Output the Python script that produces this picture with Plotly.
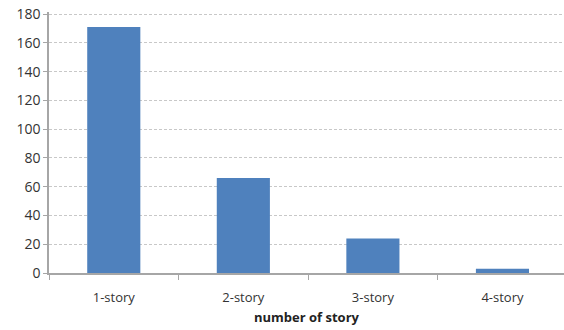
import plotly.graph_objects as go

categories = ["1-story", "2-story", "3-story", "4-story"]
values = [171, 66, 24, 3]
y_ticks = [0, 20, 40, 60, 80, 100, 120, 140, 160, 180]

fig = go.Figure(go.Bar(
    x=categories, y=values,
    marker=dict(color="#4F81BD", line=dict(color="#4F81BD", width=0)),
    width=0.41,
))

font = dict(family="Open Sans, Liberation Sans, sans-serif", size=12, color="#333333")

fig.update_layout(
    width=564, height=330,
    margin=dict(l=49, r=0, t=12, b=57),
    paper_bgcolor="white", plot_bgcolor="white",
    showlegend=False,
    font=font,
)
fig.update_xaxes(
    range=[-0.5, 3.475],
    showline=True, linecolor="#A6A6A6", linewidth=1.5,
    ticks="outside", tickson="boundaries", ticklen=5, tickcolor="#A6A6A6",
    showgrid=False,
    ticklabelstandoff=12,
    tickfont=dict(size=13, color="#333333"),
    title=dict(text="<b>number of story</b>", font=dict(size=13, color="#222222"), standoff=8),
)
fig.update_yaxes(
    range=[0, 181.5], tickvals=y_ticks,
    showline=True, linecolor="#A6A6A6", linewidth=1.5,
    ticks="outside", ticklen=4, tickcolor="#A6A6A6",
    showgrid=True, gridcolor="#C8C8C8", griddash="3px,2px", gridwidth=1,
    tickfont=dict(size=14, color="#333333"),
    zeroline=False,
)

fig.write_html("out.html")
